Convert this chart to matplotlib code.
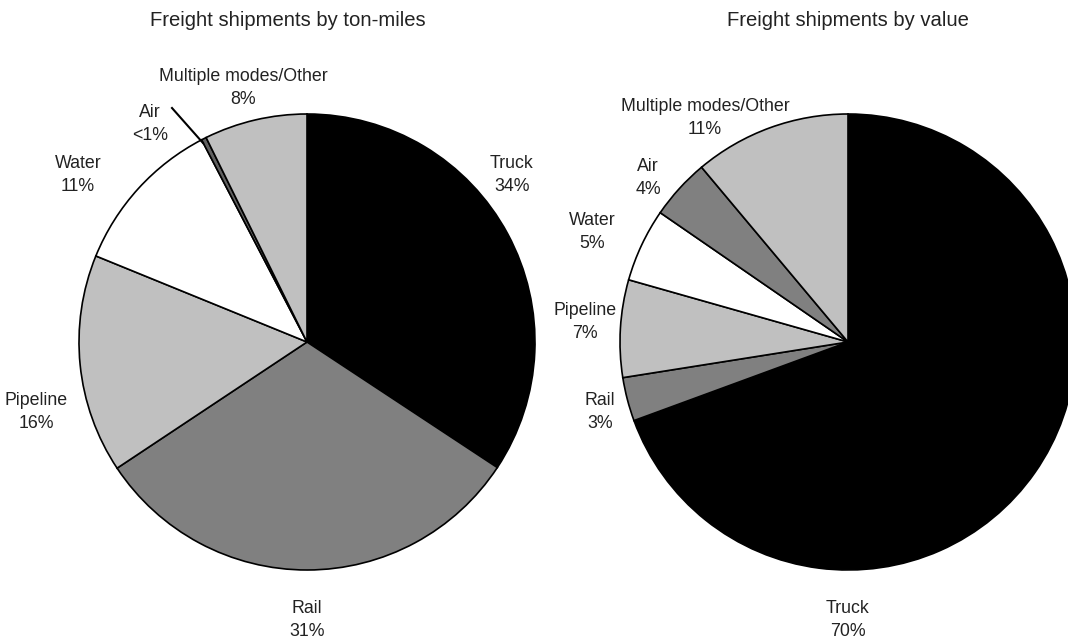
import matplotlib
matplotlib.use("Agg")
import matplotlib.pyplot as plt

plt.rcParams['font.family'] = ['Liberation Sans', 'DejaVu Sans']

W, H = 1068, 641

# Left pie: ton-miles
tm_labels = ["Truck\n34%", "Rail\n31%", "Pipeline\n16%", "Water\n11%", "Air\n<1%", "Multiple modes/Other\n8%"]
tm_values = [34.3, 31.4, 15.5, 11.2, 0.35, 7.3]
tm_colors = ["#000000", "#808080", "#c0c0c0", "#ffffff", "#606060", "#c0c0c0"]

# Right pie: value
val_labels = ["Truck\n70%", "Rail\n3%", "Pipeline\n7%", "Water\n5%", "Air\n4%", "Multiple modes/Other\n11%"]
val_values = [69.4, 3.1, 6.9, 5.2, 4.3, 11.1]
val_colors = ["#000000", "#808080", "#c0c0c0", "#ffffff", "#808080", "#c0c0c0"]

titles = ["Freight shipments by ton-miles", "Freight shipments by value"]

fig = plt.figure(figsize=(W / 100, H / 100), dpi=100)
ax = fig.add_axes([0, 0, 1, 1])

def Y(py):
    return H - py

R = 228
ax.pie(tm_values, colors=tm_colors, startangle=90, counterclock=False,
       center=(307, Y(342)), radius=R, frame=True,
       wedgeprops=dict(edgecolor='black', linewidth=1.2))
ax.pie(val_values, colors=val_colors, startangle=90, counterclock=False,
       center=(848, Y(342)), radius=R, frame=True,
       wedgeprops=dict(edgecolor='black', linewidth=1.2))
ax.set_xlim(0, W)
ax.set_ylim(0, H)
ax.set_aspect('equal')
ax.axis('off')

fs = 12.8
tc = '#222222'
tm_pos = [(512, 175), (307, 620), (36, 412), (78, 175), (150, 124), (243, 88)]
val_pos = [(848, 620), (600, 412), (585, 322), (592, 232), (648, 178), (705, 118)]
for lab, (px, py) in zip(tm_labels, tm_pos):
    ax.text(px, Y(py), lab, ha='center', va='center', fontsize=fs, linespacing=1.45, color=tc)
for lab, (px, py) in zip(val_labels, val_pos):
    ax.text(px, Y(py), lab, ha='center', va='center', fontsize=fs, linespacing=1.45, color=tc)

# leader line for Air (left)
ax.plot([172, 203], [Y(108), Y(143)], color='black', lw=1.5)

ax.text(288, Y(20), titles[0], ha='center', va='center', fontsize=14.6, color=tc)
ax.text(848, Y(20), titles[1], ha='center', va='center', fontsize=14.6, color=tc)

fig.savefig("out.png", dpi=100)
